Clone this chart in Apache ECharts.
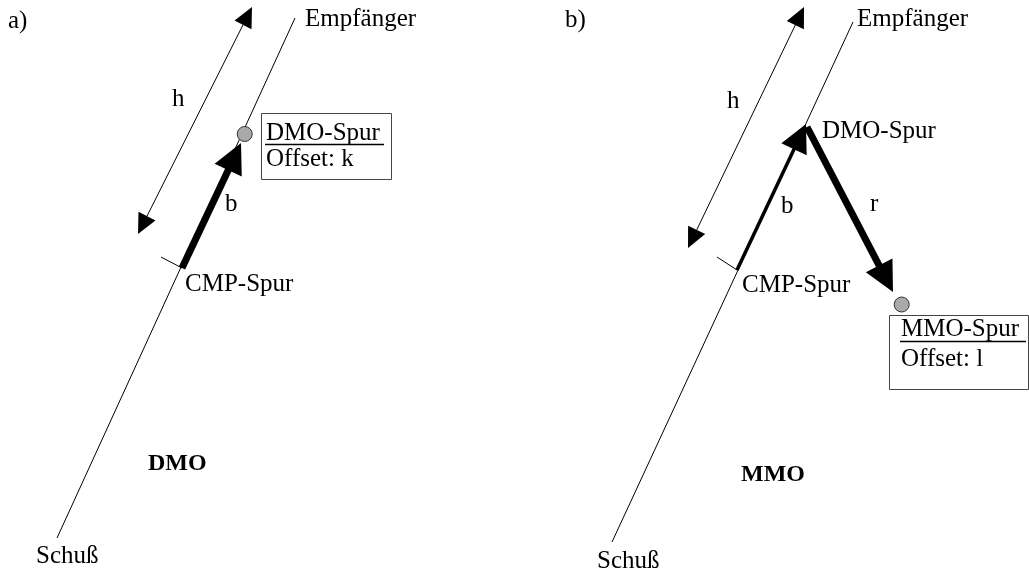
<!DOCTYPE html>
<html>
<head>
<meta charset="utf-8">
<script src="https://cdn.jsdelivr.net/npm/echarts@6/dist/echarts.min.js"></script>
<style>
html,body{margin:0;padding:0;background:#fff;}
#chart{width:1029px;height:575px;}
</style>
</head>
<body>
<div id="chart"></div>
<script>
// ---- diagram data (drawing units = axis values) ----
// thin straight lines: [x1, y1, x2, y2]
const thinLines = [
  [57, 538, 295, 18],     // a) Schuß - Empfänger
  [161, 257, 182, 268],   // a) CMP tick
  [612, 542, 853, 22],    // b) Schuß - Empfänger
  [717, 257, 737, 270]    // b) CMP tick
];
// double-headed thin arrows (h): [x1, y1, x2, y2]
const doubleArrows = [
  [138, 234, 252, 7],
  [688, 248, 804, 7]
];
// single arrows: [xStart, yStart, xTip, yTip]
const arrows = [
  [182, 268, 241, 143],   // a) b
  [737, 270, 806, 124],   // b) b
  [807, 127, 893, 292]    // b) r
];
const arrowKinds = ['thick', 'medium', 'thick'];
// trace points (gray circles)
const tracePoints = [
  [244.7, 134],
  [901.7, 304.5]
];
// boxes: [x1, y1, x2, y2]
const boxes = [
  [261, 113, 391, 179],
  [889, 315, 1028, 389]
];
// underlines: [x1, x2, y]
const underlines = [
  [265, 384, 144.5],
  [900, 1026, 341.5]
];
// labels: [text, x, baselineY]
const labels = [
  ['a)', 8, 30],
  ['Empfänger', 305, 28],
  ['h', 172, 108],
  ['DMO-Spur', 266, 142],
  ['Offset: k', 266, 168],
  ['b', 225, 213],
  ['CMP-Spur', 185, 293],
  ['Schuß', 36, 565],
  ['b)', 565, 29],
  ['Empfänger', 857, 28],
  ['h', 727, 110],
  ['DMO-Spur', 822, 140],
  ['b', 781, 215],
  ['r', 870, 213],
  ['CMP-Spur', 742, 294],
  ['MMO-Spur', 901, 338],
  ['Offset: l', 901, 368],
  ['Schuß', 597, 570]
];
const boldLabels = [
  ['DMO', 148, 472],
  ['MMO', 741, 483]
];

// ---- styles ----
const FONT = '"Liberation Serif", "Times New Roman", serif';
const FS = 25;
const BFS = 24;
const headStyle = {
  thin:   {len: 20, wid: 19, lw: 1},
  medium: {len: 28, wid: 28, lw: 3.5},
  thick:  {len: 30, wid: 30, lw: 7}
};

function headPoly(tip, from, len, wid) {
  const dx = tip[0] - from[0], dy = tip[1] - from[1];
  const d = Math.sqrt(dx * dx + dy * dy) || 1;
  const ux = dx / d, uy = dy / d;
  const bx = tip[0] - ux * len, by = tip[1] - uy * len;
  const px = -uy, py = ux;
  return {
    base: [bx, by],
    pts: [tip, [bx + px * wid / 2, by + py * wid / 2], [bx - px * wid / 2, by - py * wid / 2]]
  };
}

const chart = echarts.init(document.getElementById('chart'), null, {renderer: 'canvas'});

const option = {
  animation: false,
  backgroundColor: '#ffffff',
  grid: {left: 0, right: 0, top: 0, bottom: 0},
  xAxis: {type: 'value', min: 0, max: 1029, show: false},
  yAxis: {type: 'value', min: 0, max: 575, inverse: true, show: false},
  series: [
    {
      type: 'custom', name: 'lines', silent: true, clip: false,
      data: thinLines,
      renderItem: function (params, api) {
        const p1 = api.coord([api.value(0), api.value(1)]);
        const p2 = api.coord([api.value(2), api.value(3)]);
        return {type: 'line', shape: {x1: p1[0], y1: p1[1], x2: p2[0], y2: p2[1]},
          style: {stroke: '#000', lineWidth: 1}};
      }
    },
    {
      type: 'custom', name: 'h', silent: true, clip: false,
      data: doubleArrows,
      renderItem: function (params, api) {
        const p1 = api.coord([api.value(0), api.value(1)]);
        const p2 = api.coord([api.value(2), api.value(3)]);
        const s = headStyle.thin;
        const h1 = headPoly(p1, p2, s.len, s.wid);
        const h2 = headPoly(p2, p1, s.len, s.wid);
        return {type: 'group', children: [
          {type: 'line', shape: {x1: h1.base[0], y1: h1.base[1], x2: h2.base[0], y2: h2.base[1]},
            style: {stroke: '#000', lineWidth: s.lw}},
          {type: 'polygon', shape: {points: h1.pts}, style: {fill: '#000'}},
          {type: 'polygon', shape: {points: h2.pts}, style: {fill: '#000'}}
        ]};
      }
    },
    {
      type: 'custom', name: 'arrows', silent: true, clip: false,
      data: arrows,
      renderItem: function (params, api) {
        const p1 = api.coord([api.value(0), api.value(1)]);
        const p2 = api.coord([api.value(2), api.value(3)]);
        const s = headStyle[arrowKinds[params.dataIndex]];
        const h = headPoly(p2, p1, s.len, s.wid);
        const dx = p2[0] - p1[0], dy = p2[1] - p1[1];
        const d = Math.sqrt(dx * dx + dy * dy);
        const ex = h.base[0] + dx / d * 3, ey = h.base[1] + dy / d * 3;
        return {type: 'group', children: [
          {type: 'line', shape: {x1: p1[0], y1: p1[1], x2: ex, y2: ey},
            style: {stroke: '#000', lineWidth: s.lw, lineCap: 'butt'}},
          {type: 'polygon', shape: {points: h.pts}, style: {fill: '#000'}}
        ]};
      }
    },
    {
      type: 'custom', name: 'boxes', silent: true, clip: false,
      data: boxes,
      renderItem: function (params, api) {
        const p1 = api.coord([api.value(0), api.value(1)]);
        const p2 = api.coord([api.value(2), api.value(3)]);
        return {type: 'rect', shape: {x: p1[0] + 0.5, y: p1[1] + 0.5, width: p2[0] - p1[0], height: p2[1] - p1[1]},
          style: {fill: 'none', stroke: '#444', lineWidth: 1}};
      }
    },
    {
      type: 'custom', name: 'underlines', silent: true, clip: false,
      data: underlines,
      renderItem: function (params, api) {
        const p1 = api.coord([api.value(0), api.value(2)]);
        const p2 = api.coord([api.value(1), api.value(2)]);
        return {type: 'line', shape: {x1: p1[0], y1: p1[1], x2: p2[0], y2: p2[1]},
          style: {stroke: '#000', lineWidth: 1.6}};
      }
    },
    {
      type: 'scatter', name: 'traces', silent: true,
      data: tracePoints,
      symbol: 'circle', symbolSize: 15,
      itemStyle: {color: '#a9a9a9', borderColor: '#333', borderWidth: 1, opacity: 1},
      z: 5
    },
    {
      type: 'custom', name: 'labels', silent: true, clip: false,
      data: labels.map(l => [l[1], l[2]]),
      renderItem: function (params, api) {
        const p = api.coord([api.value(0), api.value(1)]);
        return {type: 'text', x: p[0], y: p[1] - FS * 0.3375,
          style: {text: labels[params.dataIndex][0], font: FS + 'px ' + FONT, fill: '#000',
            align: 'left', verticalAlign: 'middle'}};
      }
    },
    {
      type: 'custom', name: 'boldLabels', silent: true, clip: false,
      data: boldLabels.map(l => [l[1], l[2]]),
      renderItem: function (params, api) {
        const p = api.coord([api.value(0), api.value(1)]);
        return {type: 'text', x: p[0], y: p[1] - BFS * 0.3375,
          style: {text: boldLabels[params.dataIndex][0], font: 'bold ' + BFS + 'px ' + FONT, fill: '#000',
            align: 'left', verticalAlign: 'middle'}};
      }
    }
  ]
};
chart.setOption(option);
</script>
</body>
</html>
